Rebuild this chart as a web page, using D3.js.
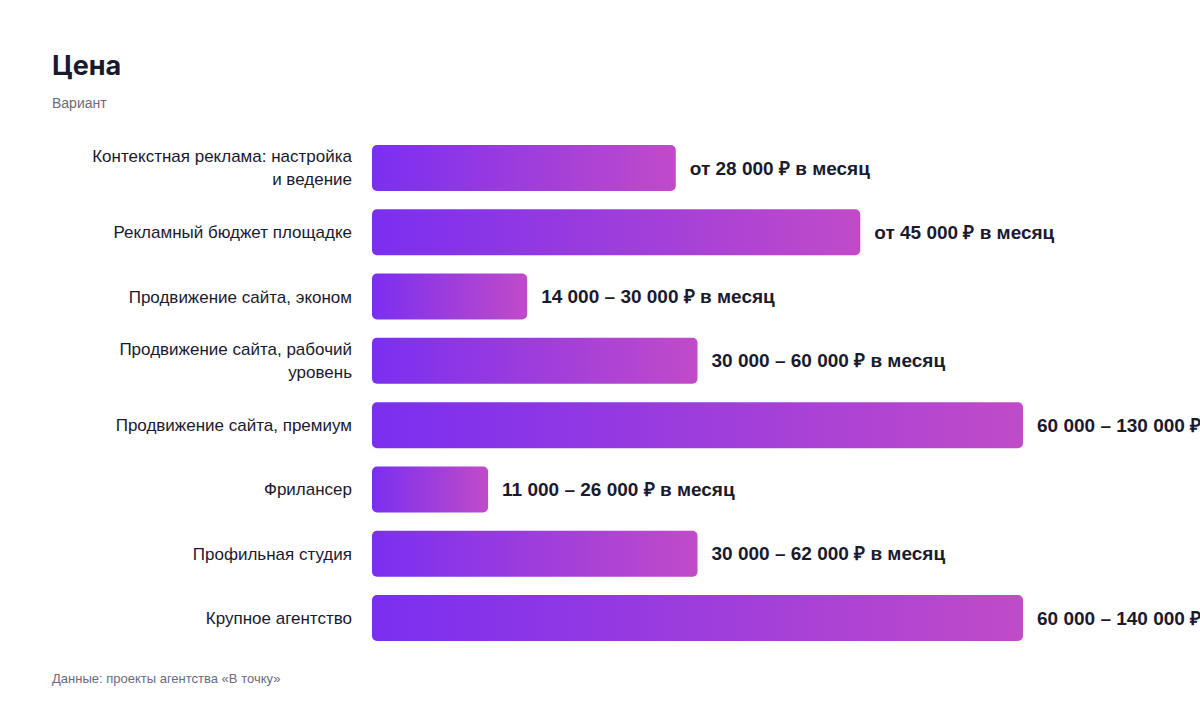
<!DOCTYPE html>
<html><head><meta charset="utf-8">
<script src="https://cdn.jsdelivr.net/npm/d3@7"></script>
<style>
body{margin:0;background:#fff;font-family:"Liberation Sans",Arial,sans-serif;}
</style></head>
<body><svg id="chart" width="1200" height="712"></svg>
<script>
const categories = [
  ["Контекстная реклама: настройка", "и ведение"],
  ["Рекламный бюджет площадке"],
  ["Продвижение сайта, эконом"],
  ["Продвижение сайта, рабочий", "уровень"],
  ["Продвижение сайта, премиум"],
  ["Фрилансер"],
  ["Профильная студия"],
  ["Крупное агентство"]
];
const values = [28000, 45000, 14300, 30000, 60000, 10700, 30000, 60000];
const valueLabels = [
  "от 28 000 ₽ в месяц",
  "от 45 000 ₽ в месяц",
  "14 000 – 30 000 ₽ в месяц",
  "30 000 – 60 000 ₽ в месяц",
  "60 000 – 130 000 ₽ в месяц",
  "11 000 – 26 000 ₽ в месяц",
  "30 000 – 62 000 ₽ в месяц",
  "60 000 – 140 000 ₽ в месяц"
];

const svg = d3.select("#chart");
const left = 372;
const x = d3.scaleLinear().domain([0, 60000]).range([0, 651]);
const y = d3.scaleBand().domain(d3.range(categories.length)).range([136, 650]).paddingInner(0.285).paddingOuter(0.14);

const grad = svg.append("defs").append("linearGradient").attr("id", "g");
grad.append("stop").attr("offset", "0%").attr("stop-color", "#7a2ff0");
grad.append("stop").attr("offset", "100%").attr("stop-color", "#c04bc8");

svg.append("text").attr("x", 52).attr("y", 75).text("Цена").attr("font-family", "Inter")
  .attr("font-size", 27).attr("font-weight", 700).attr("fill", "#1a1a2e");
svg.append("text").attr("x", 52).attr("y", 108).text("Вариант")
  .attr("font-size", 14).attr("fill", "#6b6b7b");
svg.append("text").attr("x", 52).attr("y", 683).text("Данные: проекты агентства «В точку»")
  .attr("font-size", 13).attr("fill", "#6b6b7b");

const g = svg.selectAll("g.row").data(values).join("g").attr("class", "row")
  .attr("transform", (d, i) => `translate(0,${y(i)})`);

g.append("rect").attr("x", left).attr("width", d => x(d)).attr("height", y.bandwidth())
  .attr("rx", 5).attr("fill", "url(#g)");

g.append("text").attr("x", d => left + x(d) + 14).attr("y", y.bandwidth() / 2)
  .attr("dy", "0.35em").attr("font-size", 19).attr("font-weight", 700).attr("fill", "#1a1a2e")
  .text((d, i) => valueLabels[i]);

g.append("text").attr("text-anchor", "end").attr("font-size", 17).attr("fill", "#1a1a2e")
  .each(function (d, i) {
    const lines = categories[i];
    const t = d3.select(this);
    const h = y.bandwidth() / 2;
    lines.forEach((l, k) => {
      t.append("tspan").attr("x", 352)
        .attr("y", h + (k - (lines.length - 1) / 2) * 23)
        .attr("dy", "0.35em").text(l);
    });
  });
</script></body></html>
